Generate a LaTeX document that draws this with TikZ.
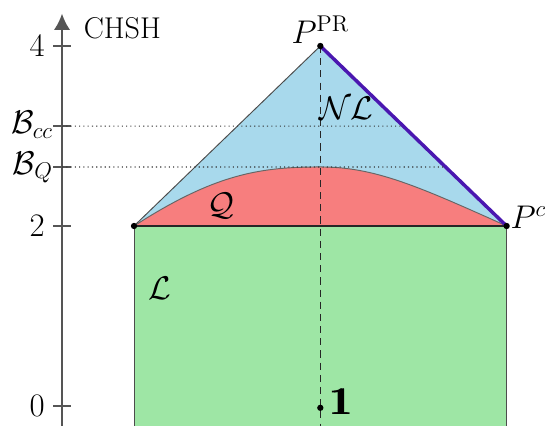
\documentclass[tikz,border=0pt]{standalone}
\usepackage{amsmath}
\usepackage{tikz}
\usetikzlibrary{arrows.meta, positioning, calc}
\definecolor{nlblue}{HTML}{A8D9EC}
\definecolor{qred}{HTML}{F77E7E}
\definecolor{lgreen}{HTML}{9EE6A5}
\definecolor{edgeviolet}{HTML}{4A17B0}
\definecolor{axisgray}{HTML}{555555}
\newcommand{\idone}{\mathrm{1}\mkern-8mu\mathrm{1}}

\begin{document}
\begin{tikzpicture}[
        x=2cm, y=2cm,
        font=\huge,
        axis/.style={draw=axisgray, line width=1.4pt},
        tick/.style={draw=axisgray, line width=1.2pt},
        digit/.style={anchor=east},
        bound/.style={draw=black!80, dotted, line width=0.7pt},
        region/.style={draw=black!70, line width=0.6pt},
        vertex/.style={circle, fill=black, inner sep=0pt, minimum size=4pt}
    ]
        \useasboundingbox (-0.689,-0.222) rectangle (5.433,4.511);

        % corners of the CHSH picture
        \coordinate (pl) at (0.8,2);
        \coordinate (pc) at (4.94,2);
        \coordinate (ppr) at (2.87,4);
        \coordinate (qtop) at (2.87,2.656);
        \coordinate (one) at (2.87,-0.02);
        \coordinate (bot) at (2.87,-0.222);

        % local set
        \fill[lgreen] (0.8,-0.222) rectangle (pc);
        \draw[region] (0.8,-0.222) -- (pl);
        \draw[region] (4.94,-0.222) -- (pc);

        % no-signalling triangle
        \fill[nlblue] (pl) -- (ppr) -- (pc) -- cycle;
        \draw[region] (pl) -- (ppr);

        % quantum set
        \fill[qred] (pl) .. controls (1.7,2.58) and (2.2,2.656) .. (qtop)
            .. controls (3.47,2.656) and (3.94,2.45) .. (pc) -- cycle;
        \draw[region, draw=black!60] (pl) .. controls (1.7,2.58) and (2.2,2.656) .. (qtop)
            .. controls (3.47,2.656) and (3.94,2.45) .. (pc);
        \draw[region, draw=black!85, line width=0.8pt] (pl) -- (pc);

        \draw[edgeviolet, line width=2.2pt] (ppr) -- (pc);

        % axis
        \draw[axis, -{Latex[length=3.6mm, width=3.6mm]}] (0,-0.222) -- (0,4.36);
        \node[anchor=west, font=\fontsize{19}{23}\selectfont] (chsh) at (0.18,4.2) {CHSH};

        \coordinate (t4) at (0,4);
        \coordinate (tcc) at (0,3.11);
        \coordinate (tq) at (0,2.656);
        \coordinate (t2) at (0,2);
        \coordinate (t0) at (0,0);
        \foreach \t in {t4,tcc,tq,t2,t0}
            \draw[tick] ($(\t)+(-0.1,0)$) -- ($(\t)+(0.1,0)$);

        \node[digit] (l4) at (-0.13,4) {$4$};
        \node[anchor=east] (lcc) at (-0.04,3.12) {$\mathcal{B}_{cc}$};
        \node[anchor=east] (lq) at (-0.04,2.65) {$\mathcal{B}_{Q}$};
        \node[digit] (l2) at (-0.13,2) {$2$};
        \node[digit] (l0) at (-0.13,0) {$0$};

        % bounds
        \coordinate (ecc) at ($(ppr)!0.445!(pc)$);
        \coordinate (eq) at ($(ppr)!0.672!(pc)$);
        \draw[bound] (tcc) -- (ecc);
        \draw[bound] (tq) -- (eq);

        \draw[black!85, dashed, dash pattern=on 4.5pt off 3.2pt, line width=1pt] (ppr) -- (bot);

        \node[vertex] (vpr) at (ppr) {};
        \node[vertex] (vl) at (pl) {};
        \node[vertex] (vc) at (pc) {};
        \node[vertex] (vone) at (one) {};

        \node[anchor=base, inner sep=0pt] (lpr) at ($(ppr)+(0,0.03)$) {$P^{\mathrm{PR}}$};
        \node[anchor=base west, inner sep=0pt] (lc) at ($(pc)+(0.04,-0.03)$) {$P^{c}$};
        \node[anchor=west, inner sep=0pt, font=\Huge] (lone) at ($(vone.east)+(0.05,0.07)$) {$\boldsymbol{\idone}$};
        \node (lnl) at (3.16,3.31) {$\mathcal{NL}$};
        \node (lqq) at (1.77,2.22) {$\mathcal{Q}$};
        \node (ll) at (1.09,1.31) {$\mathcal{L}$};
    \end{tikzpicture}
\end{document}
